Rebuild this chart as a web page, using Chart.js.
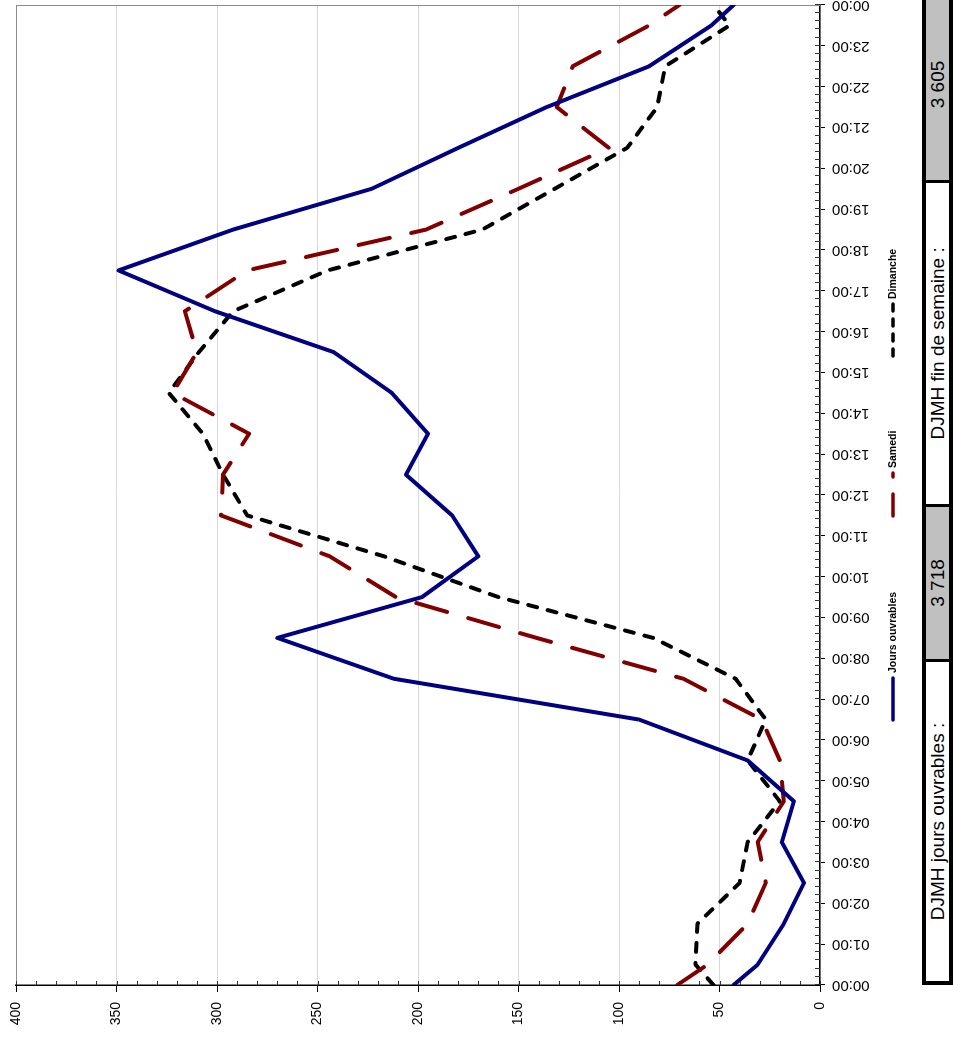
<!DOCTYPE html>
<html>
<head>
<meta charset="utf-8">
<script src="https://cdn.jsdelivr.net/npm/chart.js@4.4.0/dist/chart.umd.min.js"></script>
<style>
  html, body { margin: 0; padding: 0; background: #fff; overflow: hidden; }
  /* the chart is built landscape, then turned a quarter turn to the left */
  #page {
    position: absolute; left: 0; top: 0;
    width: 1038px; height: 953px;
    transform-origin: 0 0;
    transform: translateY(1038px) rotate(-90deg);
    overflow: hidden;
    font-family: "Liberation Sans", Arial, sans-serif;
  }
  #chart { position: absolute; left: 0; top: 0; }
  #djmh {
    position: absolute; left: 53px; top: 922px; width: 1000px; height: 31px;
    box-sizing: border-box; border: 4px solid #000; display: flex; background: #fff;
  }
  #djmh div {
    box-sizing: border-box; height: 23px; line-height: 23px;
    font-size: 19px; text-align: center; color: #000; white-space: nowrap;
  }
  #djmh .grey { background: #c0c0c0; }
  #djmh .sep { border-left: 3px solid #000; }
</style>
</head>
<body>
<div id="page">
  <canvas id="chart" width="1038" height="918"></canvas>
  <div id="djmh">
    <div id="c0" style="width:329px"></div>
    <div id="c1" class="grey sep" style="width:160px"></div>
    <div id="c2" class="sep" style="width:334px"></div>
    <div id="c3" class="grey sep" style="width:200px"></div>
  </div>
</div>
<script>
// hour positions of the points (hourly counts sit in the middle of each hour)
const hours = [0, 0.5, 1.5, 2.5, 3.5, 4.5, 5.5, 6.5, 7.5, 8.5, 9.5, 10.5, 11.5,
  12.5, 13.5, 14.5, 15.5, 16.5, 17.5, 18.5, 19.5, 20.5, 21.5, 22.5, 23.5, 24];

const hourLabels = ['00:00', '01:00', '02:00', '03:00', '04:00', '05:00', '06:00',
  '07:00', '08:00', '09:00', '10:00', '11:00', '12:00', '13:00', '14:00', '15:00',
  '16:00', '17:00', '18:00', '19:00', '20:00', '21:00', '22:00', '23:00', '00:00'];

const joursOuvrables = [43, 31, 18, 8, 19, 13, 36, 90, 212, 270, 198, 170, 183,
  206, 195, 213, 242, 301, 349, 292, 223, 180, 136, 85, 54, 43];
const samedi = [71, 56, 36, 27, 31, 18, 20, 29, 68, 141, 211, 244, 298,
  297, 284, 322, 310, 316, 285, 196, 150, 105, 131, 123, 85, 70];
const dimanche = [53, 62, 61, 40, 36, 20, 36, 27, 42, 83, 160, 217, 285,
  297, 307, 324, 309, 292, 245, 168, 132, 96, 81, 77, 45, 53];

const seriesNames = ['Jours ouvrables', 'Samedi', 'Dimanche'];
const djmhCells = ['DJMH jours ouvrables :', '3 718', 'DJMH fin de semaine :', '3 605'];

djmhCells.forEach((t, i) => { document.getElementById('c' + i).textContent = t; });

const FONT = '"Liberation Sans", Arial, sans-serif';

function toPoints(values) {
  return values.map((v, i) => ({ x: hours[i], y: v }));
}

// grey frame on the two free sides + small inner ticks of both axes
const axisDecor = {
  id: 'axisDecor',
  beforeDatasetsDraw(chart) {
    const { ctx, chartArea: a, scales: { x, y } } = chart;
    ctx.save();
    ctx.lineWidth = 1;
    ctx.strokeStyle = '#8c8c8c';
    ctx.beginPath();
    ctx.moveTo(a.left, a.top + 0.5);
    ctx.lineTo(a.right, a.top + 0.5);
    ctx.moveTo(a.right - 0.5, a.top);
    ctx.lineTo(a.right - 0.5, a.bottom);
    ctx.stroke();

    ctx.strokeStyle = '#333';
    ctx.beginPath();
    for (let i = 0; i <= 120; i++) {
      const px = Math.round(x.getPixelForValue(i / 5)) + 0.5;
      ctx.moveTo(px, a.bottom);
      ctx.lineTo(px, a.bottom - 5);
    }
    for (let v = 0; v <= 400; v += 10) {
      const py = Math.round(y.getPixelForValue(v)) + 0.5;
      ctx.moveTo(a.left, py);
      ctx.lineTo(a.left + 4, py);
    }
    ctx.stroke();
    ctx.restore();
  }
};

// legend keys, laid out like the original sheet
const legendLayout = [
  { x0: 318, x1: 360, dash: [] },
  { x0: 522, x1: 565, dash: [22, 17] },
  { x0: 682, x1: 734, dash: [7, 8] }
];
const legendKeys = {
  id: 'legendKeys',
  afterDraw(chart) {
    const ctx = chart.ctx;
    const ly = 893;
    ctx.save();
    ctx.font = 'bold 10.5px ' + FONT;
    ctx.textBaseline = 'middle';
    chart.data.datasets.forEach((ds, i) => {
      const k = legendLayout[i];
      ctx.strokeStyle = ds.borderColor;
      ctx.lineWidth = 3.5;
      ctx.lineCap = 'round';
      ctx.setLineDash(k.dash);
      ctx.beginPath();
      ctx.moveTo(k.x0, ly);
      ctx.lineTo(k.x1, ly);
      ctx.stroke();
      ctx.setLineDash([]);
      ctx.fillStyle = '#000';
      ctx.fillText(ds.label, k.x1 + 5, ly);
    });
    ctx.restore();
  }
};

const ctx = document.getElementById('chart').getContext('2d');
new Chart(ctx, {
  type: 'line',
  data: {
    datasets: [
      {
        label: seriesNames[0],
        data: toPoints(joursOuvrables),
        borderColor: '#000080',
        borderWidth: 4
      },
      {
        label: seriesNames[1],
        data: toPoints(samedi),
        borderColor: '#800000',
        borderWidth: 4,
        borderDash: [32, 22]
      },
      {
        label: seriesNames[2],
        data: toPoints(dimanche),
        borderColor: '#000000',
        borderWidth: 4,
        borderDash: [9, 11]
      }
    ]
  },
  options: {
    responsive: false,
    animation: false,
    devicePixelRatio: 1,
    layout: { padding: { top: 16, right: 5, left: 0, bottom: 0 } },
    elements: {
      point: { radius: 0 },
      line: { tension: 0, fill: false, borderCapStyle: 'round', borderJoinStyle: 'round' }
    },
    scales: {
      x: {
        type: 'linear',
        min: 0,
        max: 24,
        afterFit(s) { s.height = 98; s.paddingLeft = 0; s.paddingRight = 0; },
        ticks: {
          stepSize: 1,
          autoSkip: false,
          minRotation: 90,
          maxRotation: 90,
          padding: 7,
          color: '#000',
          font: { family: FONT, size: 15 },
          callback: (v, i) => hourLabels[i]
        },
        grid: { drawOnChartArea: false, tickLength: 5, tickColor: '#000' },
        border: { color: '#000', width: 1.5 }
      },
      y: {
        min: 0,
        max: 400,
        afterFit(s) { s.width = 53; s.paddingTop = 0; s.paddingBottom = 0; },
        ticks: {
          stepSize: 50,
          padding: 10,
          color: '#000',
          font: { family: FONT, size: 14 }
        },
        grid: { color: '#d9d9d9', tickColor: '#000', tickLength: 7 },
        border: { color: '#000', width: 1.5 }
      }
    },
    plugins: {
      legend: { display: false },
      tooltip: { enabled: false }
    }
  },
  plugins: [axisDecor, legendKeys]
});
</script>
</body>
</html>
